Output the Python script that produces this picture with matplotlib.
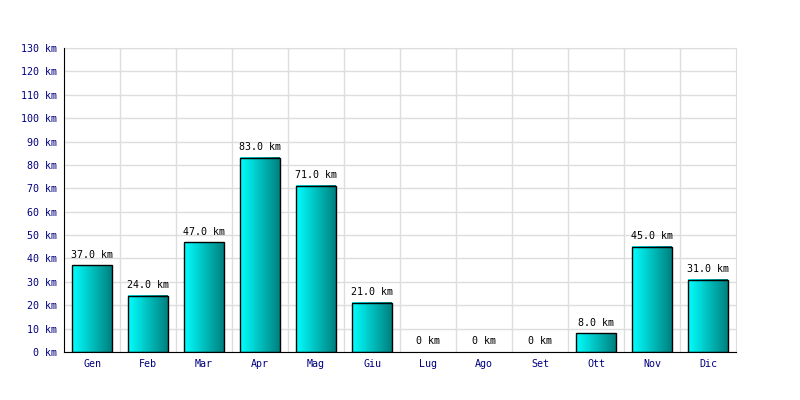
import numpy as np
import matplotlib
matplotlib.use("Agg")
import matplotlib.pyplot as plt
from matplotlib.colors import LinearSegmentedColormap

months = ["Gen", "Feb", "Mar", "Apr", "Mag", "Giu", "Lug", "Ago", "Set", "Ott", "Nov", "Dic"]
km = [37.0, 24.0, 47.0, 83.0, 71.0, 21.0, 0.0, 0.0, 0.0, 8.0, 45.0, 31.0]
y_ticks = list(range(0, 131, 10))

FONT = "DejaVu Sans Mono"
NAVY = "#000080"

fig = plt.figure(figsize=(8, 4), dpi=100)
ax = fig.add_axes([0.08, 0.12, 0.84, 0.76])

cmap = LinearSegmentedColormap.from_list("cyan_teal", ["#00ffff", "#008080"])
grad = np.linspace(0, 1, 256).reshape(1, -1)

width = 0.7
x = np.arange(len(months))
for xi, v in zip(x, km):
    if v > 0:
        ax.imshow(grad, cmap=cmap, aspect="auto", interpolation="bilinear",
                  extent=(xi - width / 2, xi + width / 2, 0, v), zorder=2)
        ax.bar(xi, v, width=width, facecolor="none", edgecolor="black",
               linewidth=1, zorder=3)
    ax.annotate(f"{v:.1f} km" if v > 0 else "0 km", (xi, v), xytext=(0, 4),
                textcoords="offset points", ha="center", va="bottom",
                fontsize=7.2, family=FONT, color="black", zorder=4)

ax.set_xlim(-0.5, len(months) - 0.5)
ax.set_ylim(0, 130)
ax.set_xticks(x)
ax.set_xticklabels(months)
ax.set_yticks(y_ticks)
ax.set_yticklabels([f"{t} km" for t in y_ticks])

# category boundary grid lines
for b in np.arange(0.5, len(months) - 0.5, 1):
    ax.axvline(b, color="#dddddd", linewidth=1, zorder=0)
ax.yaxis.grid(True, color="#dddddd", linewidth=1, zorder=0)
ax.set_axisbelow(True)

for lab in ax.get_xticklabels() + ax.get_yticklabels():
    lab.set_family(FONT)
    lab.set_fontsize(7.2)
    lab.set_color(NAVY)

ax.tick_params(axis="both", length=0, pad=5)
ax.spines["left"].set_color("black")
ax.spines["bottom"].set_color("black")
ax.spines["top"].set_color("#dddddd")
ax.spines["right"].set_color("#dddddd")
ax.spines["top"].set_zorder(0)
ax.spines["right"].set_zorder(0)

fig.savefig("out.png", dpi=100)
